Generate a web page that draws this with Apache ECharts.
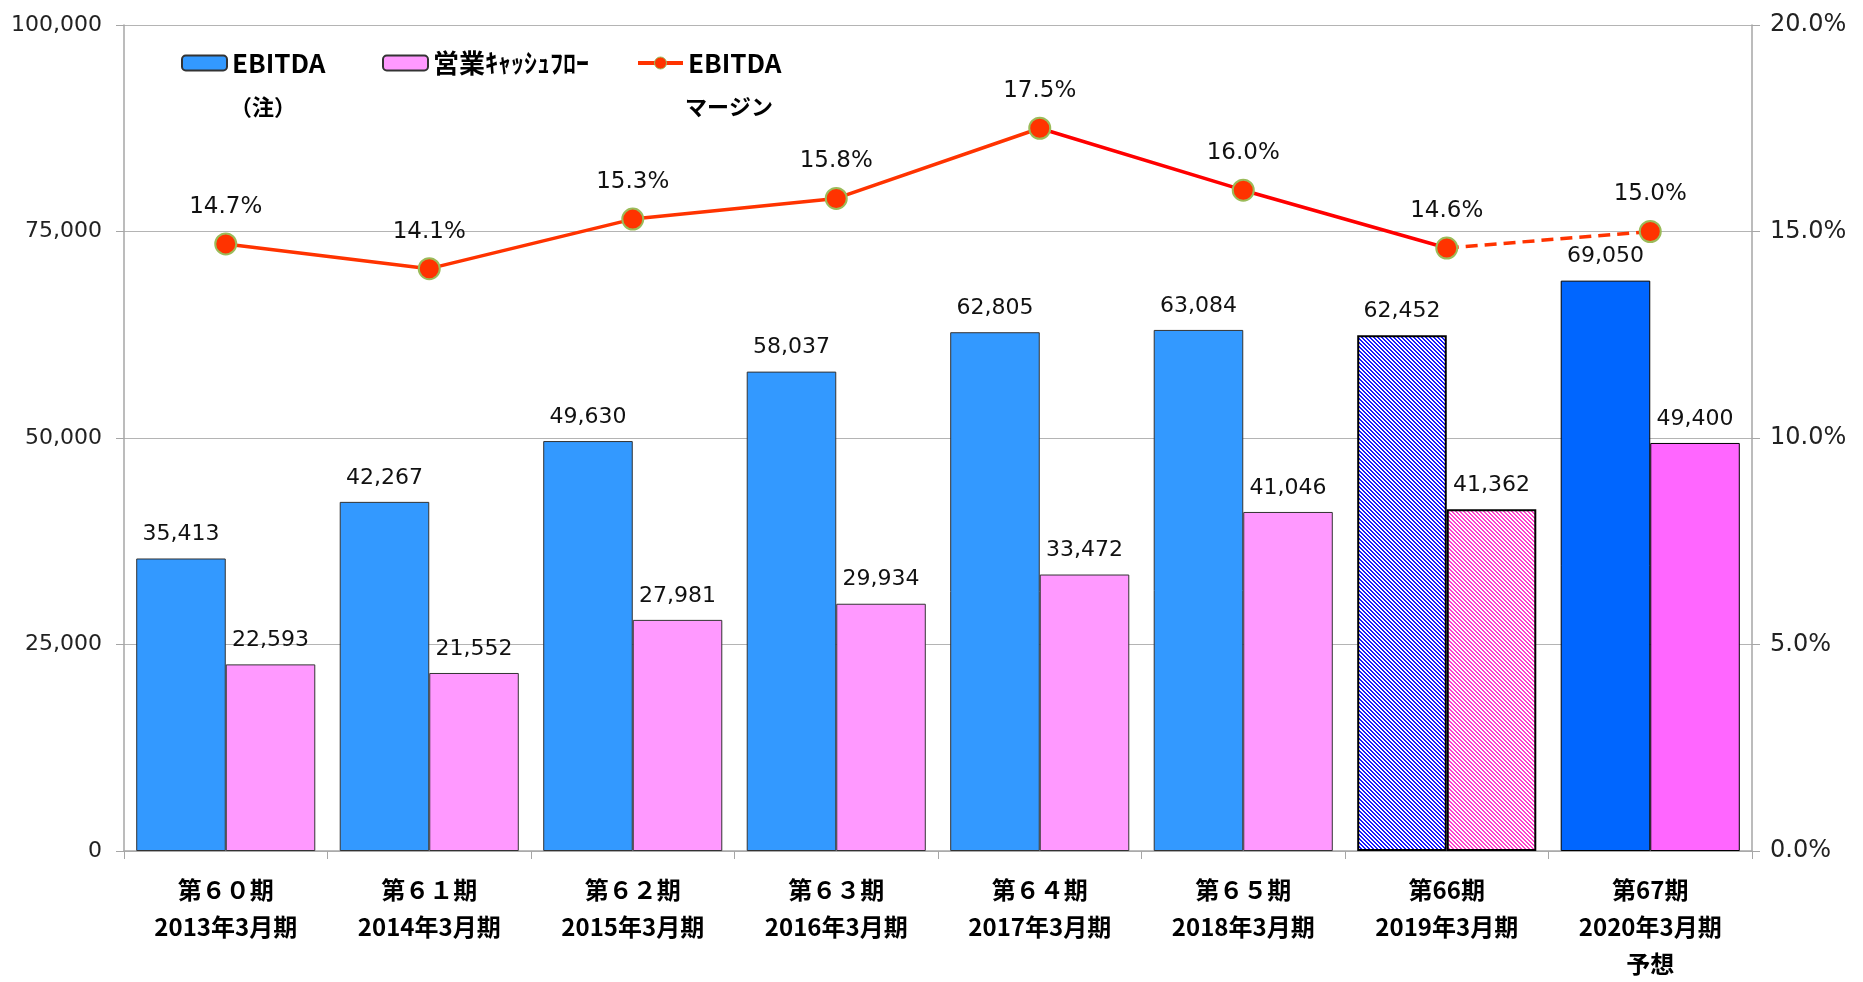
<!DOCTYPE html>
<html><head><meta charset="utf-8">
<script src="https://cdn.jsdelivr.net/npm/echarts@6/dist/echarts.min.js"></script>
<style>html,body{margin:0;padding:0;background:#fff}#c{width:1863px;height:982px}</style>
</head><body><div id="c"></div><script>
// ---- data ----
const categories = [
  '第６０期\n2013年3月期',
  '第６１期\n2014年3月期',
  '第６２期\n2015年3月期',
  '第６３期\n2016年3月期',
  '第６４期\n2017年3月期',
  '第６５期\n2018年3月期',
  '第66期\n2019年3月期',
  '第67期\n2020年3月期\n予想'
];
const ebitda   = [35413, 42267, 49630, 58037, 62805, 63084, 62452, 69050];
const cashFlow = [22593, 21552, 27981, 29934, 33472, 41046, 41362, 49400];
const margin   = [14.7, 14.1, 15.3, 15.8, 17.5, 16.0, 14.6, 15.0];
const legendNames = { ebitda: 'EBITDA', cf: '営業ｷｬｯｼｭﾌﾛｰ', margin: 'EBITDA' };
const legendSubLines = { ebitda: '（注）', margin: 'マージン' };
const leftAxis = { min: 0, max: 100000, interval: 25000 };
const rightAxis = { min: 0, max: 20, interval: 5 };
const hatchIndex = 6;     // 2019: hatched bars
const forecastIndex = 7;  // 2020: forecast bars, dashed line segment
const redFrom = 4, redTo = 6; // red segments of margin line

// ---- styles ----
function hatch(fg, bg) {
  const c = document.createElement('canvas');
  c.width = 4; c.height = 4;
  const ctx = c.getContext('2d');
  ctx.fillStyle = bg; ctx.fillRect(0, 0, 4, 4);
  ctx.fillStyle = fg;
  for (let y = 0; y < 4; y++) for (let x = 0; x < 4; x++)
    if ((((x - y) % 4) + 4) % 4 < 2) ctx.fillRect(x, y, 1, 1);
  return { image: c, repeat: 'repeat' };
}
const blueHatch = hatch('#1A1AFF', '#FFFFFF');
const pinkHatch = hatch('#FF40CC', '#FFFFFF');

const num = v => v.toLocaleString('en-US');
const valFont = 'DejaVu Sans, Verdana, sans-serif';
const jpFont = '"Noto Sans CJK JP", sans-serif';

function barData(values, hatchColor, forecastColor) {
  return values.map((v, i) => {
    if (i === hatchIndex) return { value: v, itemStyle: { color: hatchColor, borderColor: '#000', borderWidth: 2 } };
    if (i === forecastIndex) return { value: v, itemStyle: { color: forecastColor, borderColor: '#000', borderWidth: 1 } };
    return v;
  });
}
const seg = (from, to) => margin.map((v, i) => (i >= from && i <= to ? v : '-'));

const chart = echarts.init(document.getElementById('c'), null, { renderer: 'canvas' });
const legendCommon = {
  top: 48, padding: 0, itemWidth: 45, itemHeight: 15, itemGap: 5,
  textStyle: { fontFamily: jpFont, fontWeight: 'bold', fontSize: 26, color: '#000', lineHeight: 30 },
  formatter: n => legendNames[n], selectedMode: false
};
const subFont = 'bold 22px "Noto Sans CJK JP"';
chart.setOption({
  animation: false,
  backgroundColor: '#fff',
  grid: { left: 124, right: 111, top: 25, bottom: 120 },
  legend: [
    Object.assign({}, legendCommon, { left: 181, data: ['ebitda'] }),
    Object.assign({}, legendCommon, { left: 382, data: ['cf'] }),
    Object.assign({}, legendCommon, { left: 636, data: [{ name: 'margin',
      lineStyle: { color: '#FF3300', width: 4, opacity: 1, type: 'solid' },
      itemStyle: { color: '#FF3300', borderColor: '#9BBB59', borderWidth: 1 } }] })
  ],
  graphic: [
    { type: 'text', left: 230, top: 96, style: { text: legendSubLines.ebitda, font: subFont, fill: '#000' } },
    { type: 'text', left: 685, top: 96, style: { text: legendSubLines.margin, font: subFont, fill: '#000' } }
  ],
  xAxis: {
    type: 'category', data: categories, boundaryGap: true,
    axisLine: { lineStyle: { color: '#A6A6A6', width: 1.5 } },
    axisTick: { show: true, alignWithLabel: false, length: 8, lineStyle: { color: '#A6A6A6' } },
    axisLabel: { margin: 20, fontFamily: jpFont, fontWeight: 'bold', fontSize: 24, lineHeight: 37, color: '#000', interval: 0 }
  },
  yAxis: [
    { type: 'value', min: leftAxis.min, max: leftAxis.max, interval: leftAxis.interval,
      axisLine: { show: true, lineStyle: { color: '#A6A6A6', width: 1.5 } },
      axisTick: { show: true, length: 8, lineStyle: { color: '#A6A6A6' } },
      splitLine: { lineStyle: { color: '#B4B4B4', width: 1 } },
      axisLabel: { margin: 22, fontFamily: valFont, fontSize: 22, color: '#222', formatter: v => num(v) } },
    { type: 'value', min: rightAxis.min, max: rightAxis.max, interval: rightAxis.interval, position: 'right',
      axisLine: { show: true, lineStyle: { color: '#A6A6A6', width: 1.5 } },
      axisTick: { show: true, length: 8, lineStyle: { color: '#A6A6A6' } },
      splitLine: { show: false },
      axisLabel: { margin: 18, fontFamily: valFont, fontSize: 24, color: '#222', formatter: v => v.toFixed(1) + '%' } }
  ],
  series: [
    { name: 'ebitda', type: 'bar', data: barData(ebitda, blueHatch, '#0066FF'),
      barGap: '0%', barCategoryGap: '12%',
      itemStyle: { color: '#3399FF', borderColor: '#333', borderWidth: 1 },
      label: { show: true, position: 'top', distance: 13, fontFamily: valFont, fontSize: 22, color: '#111', formatter: p => num(p.value) } },
    { name: 'cf', type: 'bar', data: barData(cashFlow, pinkHatch, '#FF66FF'),
      barGap: '0%', barCategoryGap: '12%',
      itemStyle: { color: '#FF99FF', borderColor: '#333', borderWidth: 1 },
      label: { show: true, position: 'top', distance: 13, fontFamily: valFont, fontSize: 22, color: '#111', formatter: p => num(p.value) } },
    { name: 'seg1', type: 'line', yAxisIndex: 1, data: seg(0, redFrom), symbol: 'none', silent: true,
      lineStyle: { color: '#FF3300', width: 3.5 } },
    { name: 'seg2', type: 'line', yAxisIndex: 1, data: seg(redFrom, redTo), symbol: 'none', silent: true,
      lineStyle: { color: '#FF0000', width: 3.5 } },
    { name: 'seg3', type: 'line', yAxisIndex: 1, data: seg(redTo, forecastIndex), symbol: 'none', silent: true,
      lineStyle: { color: '#FF3300', width: 3.5, type: [12, 7] } },
    { name: 'margin', type: 'line', yAxisIndex: 1, data: margin, z: 5,
      symbol: 'circle', symbolSize: 21,
      lineStyle: { width: 0, opacity: 0 },
      itemStyle: { color: '#FF3300', borderColor: '#9BBB59', borderWidth: 2 },
      label: { show: true, position: 'top', distance: 14, fontFamily: valFont, fontSize: 23, color: '#111', formatter: p => p.value.toFixed(1) + '%' } }
  ]
});
</script></body></html>
